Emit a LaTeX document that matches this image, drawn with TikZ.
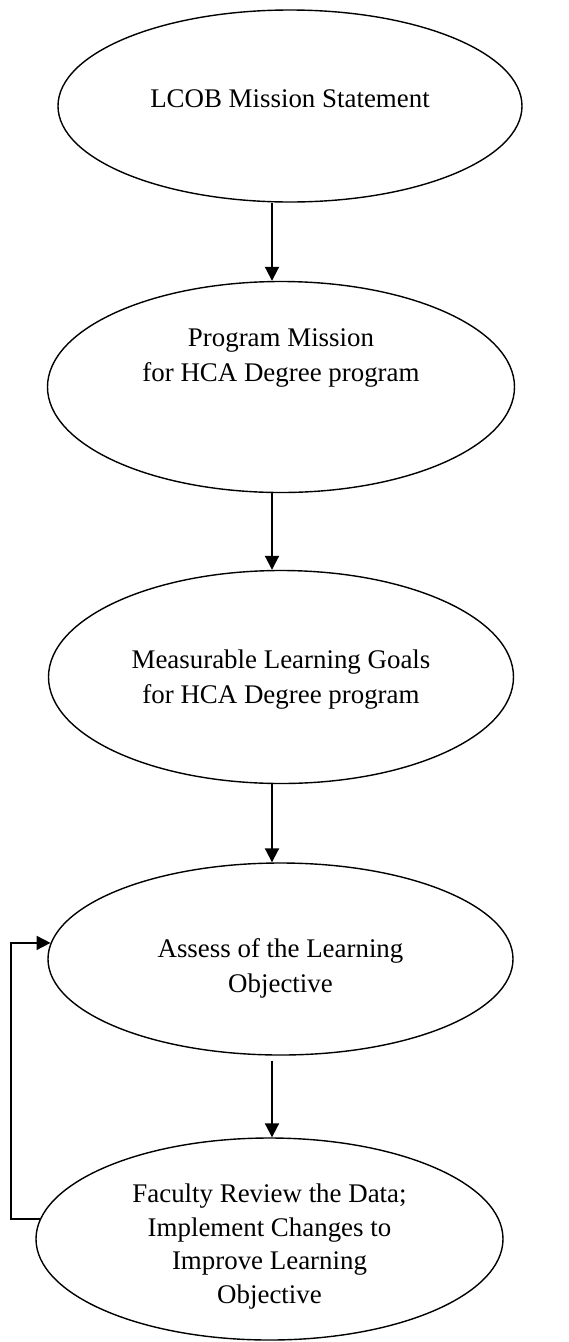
\documentclass[tikz,border=0pt]{standalone}
\usepackage{fontspec}
\setmainfont{Liberation Serif}
\usetikzlibrary{shapes.geometric,arrows.meta,calc}
\begin{document}
\begin{tikzpicture}[x=1pt,y=-1pt,
  oval/.style={ellipse,draw,line width=1.4pt,inner sep=0pt},
  lbl/.style={align=center,anchor=base,inner sep=0pt,font=\fontsize{26.9}{34.5}\selectfont},
  arr/.style={line width=2pt,-{Triangle[width=14pt,length=14pt]}},
  fbarr/.style={line width=1.6pt,-{Triangle[width=14pt,length=14pt]}}]
\useasboundingbox (0,0) rectangle (569,1342);
% ellipses
\node[oval,minimum width=464pt,minimum height=192pt] (e1) at (290,106) {};
\node[oval,minimum width=467pt,minimum height=211pt] (e2) at (281,387) {};
\node[oval,minimum width=465pt,minimum height=213pt] (e3) at (281,677) {};
\node[oval,minimum width=465pt,minimum height=192pt] (e4) at (280.5,959) {};
\node[oval,minimum width=467pt,minimum height=202pt] (e5) at (269.5,1239) {};
% texts (base anchor = baseline of last line)
\node[lbl] (t1) at (290,107) {LCOB Mission Statement};
\node[lbl] (t2) at (281,381) {Program Mission\\for HCA Degree program};
\node[lbl] (t3) at (281,703) {Measurable Learning Goals\\for HCA Degree program};
\node[lbl] (t4) at (280.5,992) {Assess of the Learning\\Objective};
\node[lbl,font=\fontsize{26.9}{33.4}\selectfont] (t5) at (269.5,1303) {Faculty Review the Data;\\Implement Changes to\\Improve Learning\\Objective};
% connectors
\coordinate (ax) at (272,0);
\coordinate (fb) at (11,0);
\draw[arr] (e1.south -| ax) -- (e2.north -| ax);
\draw[arr] (e2.south -| ax) -- (e3.north -| ax);
\draw[arr] (e3.south -| ax) -- (e4.north -| ax);
\coordinate (a4) at ($(e4.south -| ax)+(0,5)$);
\draw[arr] (a4) -- (e5.north -| ax);
\draw[fbarr] (e5.175) -- (e5.175 -| fb) |- (e4.176);
\end{tikzpicture}
\end{document}
